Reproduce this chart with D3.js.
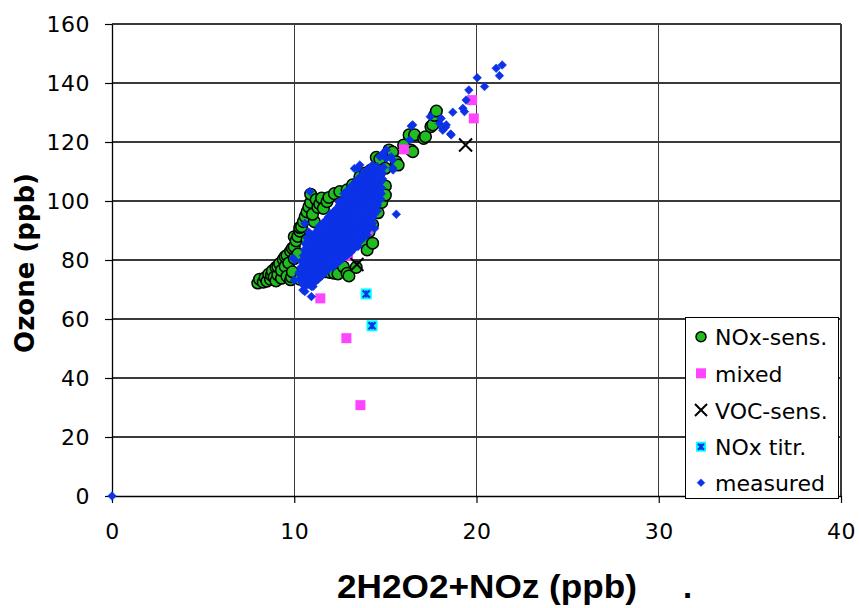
<!DOCTYPE html>
<html><head><meta charset="utf-8">
<script src="https://cdn.jsdelivr.net/npm/d3@7"></script>
<style>body{margin:0;background:#fff} svg{display:block}</style>
</head><body><svg id="c" width="859" height="608"></svg>
<script>
const xTicks = [0, 10, 20, 30, 40];
const yTicks = [0, 20, 40, 60, 80, 100, 120, 140, 160];
const seriesNames = ["NOx-sens.", "mixed", "VOC-sens.", "NOx titr.", "measured"];

const noxSens = [[8.0,72.2],[8.1,73.5],[8.3,72.5],[8.4,74.0],[8.5,72.8],[8.6,75.2],[8.7,73.4],[8.75,74.9],[8.8,76.3],[8.9,74.2],[9.0,72.9],[9.0,77.5],[9.1,75.0],[9.1,77.7],[9.2,78.8],[9.3,73.8],[9.3,76.5],[9.4,80.2],[9.5,77.8],[9.5,81.1],[9.6,74.5],[9.6,81.6],[9.7,79.0],[9.8,83.0],[9.8,73.3],[9.85,74.3],[9.9,76.0],[9.9,84.0],[10.0,84.5],[10.0,80.5],[10.0,87.9],[10.1,86.5],[10.2,88.0],[10.2,82.0],[10.3,89.8],[10.3,91.0],[10.3,73.5],[10.4,91.3],[10.5,93.0],[10.6,94.7],[10.7,96.3],[10.7,86.8],[10.8,98.0],[10.8,72.9],[10.9,99.5],[10.9,102.3],[11.1,93.0],[11.0,95.5],[11.2,100.5],[11.3,97.8],[11.3,74.9],[11.4,99.0],[11.5,101.0],[11.6,97.5],[11.7,76.0],[11.8,78.3],[11.8,99.8],[11.9,101.2],[11.95,75.8],[12.2,102.5],[12.2,75.5],[12.4,75.3],[12.5,103.2],[12.7,77.7],[12.9,103.8],[12.9,75.5],[13.0,74.6],[13.2,105.5],[13.4,77.5],[13.6,108.2],[13.7,87.0],[13.86,85.7],[13.9,109.5],[14.0,83.4],[14.1,89.5],[14.2,110.5],[14.3,85.7],[14.3,107.8],[14.3,92.0],[14.5,114.8],[14.6,96.0],[14.7,114.2],[14.7,110.0],[14.8,99.5],[14.9,104.0],[15.0,111.1],[15.0,105.1],[15.0,102.0],[15.2,117.3],[15.4,116.6],[15.6,113.3],[15.7,112.2],[16.0,119.0],[16.3,122.4],[16.4,117.3],[16.5,116.7],[16.6,122.4],[17.1,121.2],[17.2,121.8],[17.5,125.2],[17.6,125.8],[17.7,129.0],[17.8,130.5]];

const mixed = [[19.76,134.2],[19.85,128.0],[16.02,117.5],[14.03,90.2],[13.13,85.7],[12.95,81.4],[11.43,67.0],[12.86,53.5],[13.63,30.8]];

const vocSens = [[19.4,119.0],[13.44,78.5]];

const noxTitr = [[13.95,68.5],[14.27,57.7]];

const measured = [[0,0],[9.94,80.6],[10.0,73.2],[10.03,80.0],[10.3,76.0],[10.48,69.8],[10.58,69.3],[10.67,71.5],[10.94,67.6],[11.03,71.0],[10.94,71.0],[10.58,92.4],[10.85,103.2],[15.6,95.5],[14.41,90.7],[14.23,100.3],[14.6,100.3],[13.3,111.0],[13.5,111.1],[13.6,112.2],[14.3,112.2],[14.7,115.0],[14.85,115.6],[14.87,116.2],[15.05,117.3],[15.05,114.4],[15.4,113.9],[15.32,115.0],[15.4,111.2],[15.42,110.5],[16.33,120.7],[16.42,125.4],[16.5,125.8],[17.46,128.6],[17.97,126.3],[18.06,128.0],[18.15,124.0],[18.16,124.6],[18.3,125.0],[18.34,125.8],[18.58,122.7],[18.61,122.4],[18.7,130.1],[19.25,131.4],[19.34,130.3],[19.43,134.2],[19.58,137.6],[20.04,141.8],[20.44,138.8],[21.08,145.0],[21.26,142.5],[21.41,146.1],
[10.5,71.5],[10.8,71.7],
[10.42,72.5],[10.77,72.6],[11.12,72.4],
[10.3,73.5],[10.65,73.3],[11.0,73.6],[11.3,73.4],
[10.42,74.5],[10.77,74.6],[11.12,74.4],[11.47,74.5],
[10.25,75.5],[10.6,75.7],[10.95,75.4],[11.3,75.6],[11.65,75.5],
[10.42,76.5],[10.77,76.4],[11.12,76.6],[11.47,76.5],[11.82,76.4],
[10.35,77.5],[10.7,77.3],[11.05,77.6],[11.4,77.4],[11.75,77.6],[12.1,77.5],
[10.52,78.5],[10.87,78.6],[11.22,78.4],[11.57,78.5],[11.92,78.6],[12.27,78.4],
[10.4,79.5],[10.75,79.7],[11.1,79.4],[11.45,79.6],[11.8,79.5],[12.15,79.3],[12.5,79.6],
[10.57,80.5],[10.92,80.4],[11.27,80.6],[11.62,80.5],[11.97,80.4],[12.32,80.6],[12.67,80.5],
[10.5,81.5],[10.85,81.3],[11.2,81.6],[11.55,81.4],[11.9,81.6],[12.25,81.5],[12.6,81.3],[12.9,81.6],
[10.67,82.5],[11.02,82.6],[11.37,82.4],[11.72,82.5],[12.07,82.6],[12.42,82.4],[12.77,82.5],[13.1,82.6],
[10.55,83.5],[10.9,83.7],[11.25,83.4],[11.6,83.6],[11.95,83.5],[12.3,83.3],[12.65,83.6],[13.0,83.4],[13.25,83.6],
[10.72,84.5],[11.07,84.4],[11.42,84.6],[11.77,84.5],[12.12,84.4],[12.47,84.6],[12.82,84.5],[13.17,84.4],[13.5,84.6],
[10.6,85.5],[10.95,85.3],[11.3,85.6],[11.65,85.4],[12.0,85.6],[12.35,85.5],[12.7,85.3],[13.05,85.6],[13.4,85.4],
[10.82,86.5],[11.17,86.6],[11.52,86.4],[11.87,86.5],[12.22,86.6],[12.57,86.4],[12.92,86.5],[13.27,86.6],[13.62,86.4],
[10.7,87.5],[11.05,87.7],[11.4,87.4],[11.75,87.6],[12.1,87.5],[12.45,87.3],[12.8,87.6],[13.15,87.4],[13.5,87.6],[13.8,87.5],
[10.92,88.5],[11.27,88.4],[11.62,88.6],[11.97,88.5],[12.32,88.4],[12.67,88.6],[13.02,88.5],[13.37,88.4],[13.72,88.6],[14.0,88.5],
[10.8,89.5],[11.15,89.3],[11.5,89.6],[11.85,89.4],[12.2,89.6],[12.55,89.5],[12.9,89.3],[13.25,89.6],[13.6,89.4],[13.95,89.6],
[11.32,90.6],[11.67,90.4],[12.02,90.5],[12.37,90.6],[12.72,90.4],[13.07,90.5],[13.42,90.6],[13.77,90.4],[14.1,90.5],
[11.4,91.7],[11.75,91.4],[12.1,91.6],[12.45,91.5],[12.8,91.3],[13.15,91.6],[13.5,91.4],[13.85,91.6],[14.15,91.5],
[11.57,92.4],[11.92,92.6],[12.27,92.5],[12.62,92.4],[12.97,92.6],[13.32,92.5],[13.67,92.4],[14.02,92.6],[14.3,92.5],
[11.7,93.3],[12.05,93.6],[12.4,93.4],[12.75,93.6],[13.1,93.5],[13.45,93.3],[13.8,93.6],[14.15,93.4],
[11.87,94.6],[12.22,94.4],[12.57,94.5],[12.92,94.6],[13.27,94.4],[13.62,94.5],[13.97,94.6],[14.32,94.4],
[12.0,95.7],[12.35,95.4],[12.7,95.6],[13.05,95.5],[13.4,95.3],[13.75,95.6],[14.1,95.4],[14.4,95.6],
[12.17,96.4],[12.52,96.6],[12.87,96.5],[13.22,96.4],[13.57,96.6],[13.92,96.5],[14.27,96.4],[14.55,96.6],
[12.3,97.3],[12.65,97.6],[13.0,97.4],[13.35,97.6],[13.7,97.5],[14.05,97.3],[14.4,97.6],
[12.47,98.6],[12.82,98.4],[13.17,98.5],[13.52,98.6],[13.87,98.4],[14.22,98.5],[14.57,98.6],
[12.45,99.7],[12.8,99.4],[13.15,99.6],[13.5,99.5],[13.85,99.3],[14.2,99.6],[14.55,99.4],
[12.67,100.6],[13.02,100.4],[13.37,100.5],[13.72,100.6],[14.07,100.4],[14.42,100.5],[14.75,100.6],
[12.85,101.3],[13.2,101.6],[13.55,101.4],[13.9,101.6],[14.25,101.5],[14.6,101.3],
[12.72,102.5],[13.07,102.6],[13.42,102.4],[13.77,102.5],[14.12,102.6],[14.47,102.4],[14.78,102.5],
[12.9,103.5],[13.25,103.7],[13.6,103.4],[13.95,103.6],[14.3,103.5],[14.65,103.3],
[13.07,104.5],[13.42,104.6],[13.77,104.4],[14.12,104.5],[14.47,104.6],[14.8,104.4],
[13.2,105.5],[13.55,105.3],[13.9,105.6],[14.25,105.4],[14.6,105.6],
[13.37,106.5],[13.72,106.6],[14.07,106.4],[14.42,106.5],[14.77,106.6],
[13.5,107.5],[13.85,107.7],[14.2,107.4],[14.55,107.6],[14.85,107.5],
[13.67,108.5],[14.02,108.6],[14.37,108.4],[14.72,108.5],
[13.8,109.5],[14.15,109.3],[14.5,109.6],[14.85,109.4],
[14.0,110.5],[14.35,110.6],[14.7,110.4],
[14.2,111.5],[14.55,111.7],[14.9,111.4]];

const svg = d3.select("#c");
const X0 = 112, X1 = 841, Y0 = 496, Y1 = 24;
const x = d3.scaleLinear().domain([xTicks[0], xTicks[xTicks.length-1]]).range([X0, X1]);
const y = d3.scaleLinear().domain([yTicks[0], yTicks[yTicks.length-1]]).range([Y0, Y1]);

// grid
svg.append("g").selectAll("line.h").data(yTicks.slice(1)).join("line")
  .attr("x1", X0).attr("x2", X1).attr("y1", d => y(d)).attr("y2", d => y(d))
  .attr("stroke", "#3a3a3a").attr("stroke-width", 1.2).attr("shape-rendering","crispEdges");
svg.append("g").selectAll("line.v").data(xTicks.slice(1)).join("line")
  .attr("x1", d => x(d)).attr("x2", d => x(d)).attr("y1", Y0).attr("y2", Y1)
  .attr("stroke", "#3a3a3a").attr("stroke-width", 1.2).attr("shape-rendering","crispEdges");

// axes
const fontTick = "'DejaVu Sans', Verdana, sans-serif";
const ya = svg.append("g").attr("transform", `translate(${X0},0)`)
  .call(d3.axisLeft(y).tickValues(yTicks).tickSize(7).tickSizeOuter(0).tickPadding(15));
const xa = svg.append("g").attr("transform", `translate(0,${Y0})`)
  .call(d3.axisBottom(x).tickValues(xTicks).tickSize(7).tickSizeOuter(0).tickPadding(20));
[ya, xa].forEach(g => {
  g.select(".domain").attr("stroke", "#000").attr("stroke-width", 1.3);
  g.selectAll(".tick line").attr("stroke", "#000").attr("stroke-width", 1.2);
  g.selectAll(".tick text").attr("fill", "#000").style("font-family", fontTick).style("font-size", "22px").style("letter-spacing","0.5px");
});

// titles
svg.append("text").attr("transform", "translate(34,263) rotate(-90)")
  .attr("text-anchor", "middle").style("font-family", fontTick).style("font-weight", "bold")
  .style("font-size", "26px").text("Ozone (ppb)");
svg.append("text").attr("x", 337).attr("y", 598).attr("textLength", 300).attr("lengthAdjust", "spacingAndGlyphs")
  .style("font-family", "'Liberation Sans', Arial, sans-serif").style("font-weight", "bold")
  .style("font-size", "33px").text("2H2O2+NOz (ppb)");
svg.append("text").attr("x", 683).attr("y", 598)
  .style("font-family", "'Liberation Sans', Arial, sans-serif").style("font-weight", "bold")
  .style("font-size", "33px").text(".");

// markers
const GREEN = "#1fbd1f", PINK = "#ff44ff", BLUE = "#0b32e6", CYAN = "#00ffff";
function drawCircle(g, cx, cy, r) {
  g.append("circle").attr("cx", cx).attr("cy", cy).attr("r", r).attr("fill", GREEN).attr("stroke", "#000").attr("stroke-width", 1.5);
}
function drawSquare(g, cx, cy, s) {
  g.append("rect").attr("x", cx - s/2).attr("y", cy - s/2).attr("width", s).attr("height", s).attr("fill", PINK);
}
function drawX(g, cx, cy, s) {
  g.append("path").attr("d", `M${cx-s/2},${cy-s/2}L${cx+s/2},${cy+s/2}M${cx-s/2},${cy+s/2}L${cx+s/2},${cy-s/2}`)
    .attr("stroke", "#000").attr("stroke-width", 2).attr("fill", "none");
}
function drawTitr(g, cx, cy, s) {
  g.append("rect").attr("x", cx - s/2).attr("y", cy - s/2).attr("width", s).attr("height", s).attr("fill", CYAN);
  const a = s/2 - 2;
  g.append("path").attr("d", `M${cx-a},${cy-a}L${cx+a},${cy+a}M${cx-a},${cy+a}L${cx+a},${cy-a}M${cx},${cy-a}L${cx},${cy+a}`)
    .attr("stroke", BLUE).attr("stroke-width", 2.2).attr("fill", "none");
}
function drawDiamond(g, cx, cy, h) {
  g.append("path").attr("d", `M${cx},${cy-h}L${cx+h},${cy}L${cx},${cy+h}L${cx-h},${cy}Z`)
    .attr("fill", BLUE).attr("stroke", BLUE).attr("stroke-width", 0.6);
}

const gp = svg.append("g");
noxSens.forEach(d => drawCircle(gp, x(d[0]), y(d[1]), 5.8));
mixed.forEach(d => drawSquare(gp, x(d[0]), y(d[1]), 10));
vocSens.forEach(d => drawX(gp, x(d[0]), y(d[1]), 13));
noxTitr.forEach(d => drawTitr(gp, x(d[0]), y(d[1]), 11));
measured.forEach(d => drawDiamond(gp, x(d[0]), y(d[1]), 4.3));

// legend
const lg = svg.append("g");
lg.append("rect").attr("x", 685.5).attr("y", 317.5).attr("width", 153).attr("height", 181)
  .attr("fill", "#fff").attr("stroke", "#000").attr("stroke-width", 1);
const rowY = [336.7, 373.3, 410, 446.7, 482.7];
const mx = 701;
drawCircle(lg, mx, rowY[0], 5);
drawSquare(lg, mx, rowY[1], 10);
drawX(lg, mx, rowY[2], 12);
drawTitr(lg, mx, rowY[3], 10);
drawDiamond(lg, mx, rowY[4], 3.8);
seriesNames.forEach((n, i) => {
  lg.append("text").attr("x", 715).attr("y", rowY[i] + 8.5)
    .style("font-family", fontTick).style("font-size", "22px").attr("fill", "#000").text(n);
});
</script></body></html>
